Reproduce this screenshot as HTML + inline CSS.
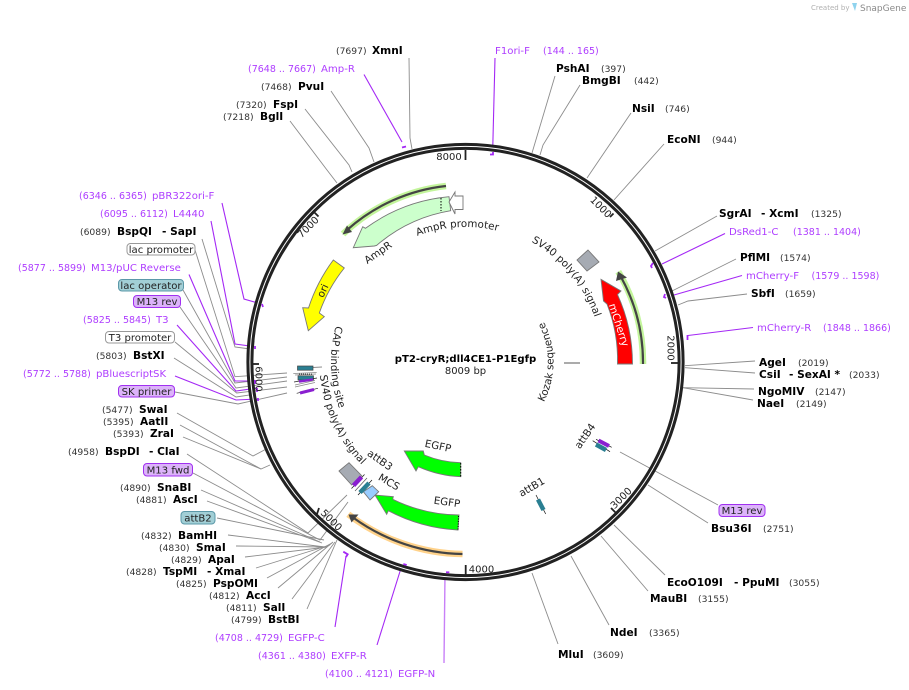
<!DOCTYPE html>
<html><head><meta charset="utf-8">
<style>
html,body{margin:0;padding:0;background:#fff;}
svg{display:block;font-family:"DejaVu Sans","Liberation Sans",sans-serif;}
.n{font-size:9.2px;fill:#333;}
.b{font-size:10.6px;font-weight:bold;fill:#000;}
.p{font-size:10.15px;fill:#ae3dff;}
.q{font-size:9.5px;fill:#ae3dff;}
.f{font-size:10.3px;fill:#222;}
.t{font-size:10px;fill:#222;}
.pill{font-size:10.1px;fill:#222;text-anchor:middle;}
.g{fill:none;stroke:#8c8c8c;stroke-width:.9;}
.v{fill:none;stroke:#a428f5;stroke-width:1.1;}
.m{fill:none;stroke:#a428f5;stroke-width:1.8;}
</style></head><body>
<svg width="909" height="690" viewBox="0 0 909 690" xmlns="http://www.w3.org/2000/svg">
<defs>
<path id="a1" d="M411.7,238.2 A135,135 0 0 1 503.8,232.5"/>
<path id="a2" d="M512,233 A137,137 0 0 1 600,338"/>
<path id="a3" d="M532.9,418.6 A88,88 0 0 0 532.9,305.4"/>
<path id="a4" d="M337,322 A134.5,134.5 0 0 0 340.6,412"/>
<path id="a5" d="M320,349 A146,146 0 0 0 381.7,481.6"/>
</defs>
<rect width="909" height="690" fill="#fff"/>

<!-- logo -->
<text x="811" y="10" style="font-size:7px;fill:#b0b0b0">Created by</text>
<path d="M852,3 h5 l-2,8 z" fill="#8fd3ee"/>
<text x="860" y="11" style="font-size:9px;fill:#8a8a8a">SnapGene</text>

<!-- connectors -->
<g class="g">
<polyline points="409,58 410,138 412,149"/>
<polyline points="331,91 369,148 374,162"/>
<polyline points="305,109 349,165 352,172"/>
<polyline points="290,121 327,170 337,183"/>
<polyline points="555,76 532,153"/>
<polyline points="580,85 543,145 540,155"/>
<polyline points="631,113 587,178"/>
<polyline points="664,144 614,200"/>
<polyline points="717,216 655,251"/>
<polyline points="736,259 672,291"/>
<polyline points="747,294 688,301 678,305"/>
<polyline points="755,361 685,365.7"/>
<polyline points="755,373 685,367.7"/>
<polyline points="754,389 683,387.7"/>
<polyline points="753,400 683,387.7"/>
<polyline points="620,452 718,505"/>
<polyline points="648,485 708,523"/>
<polyline points="614,525 665,575"/>
<polyline points="601,536 648,591"/>
<polyline points="571,556 609,625"/>
<polyline points="532,573 558,644"/>
<polyline points="202,239 235,347 250,349"/>
<polyline points="195,250 235,376.7 287,373"/>
<polyline points="183,290 235,383 287,377"/>
<polyline points="180,307 236,388 287,381"/>
<polyline points="175,342 236.7,393 287,387"/>
<polyline points="174,358 236,397 256,394"/>
<polyline points="175,392 238,404 287,393"/>
<polyline points="177,413 253,456 270,447"/>
<polyline points="180,425 261,469 270,465"/>
<polyline points="183,437 261,469"/>
<polyline points="187,454 308,533 347,495"/>
<polyline points="193,473 320,540 348,502"/>
<polyline points="201,490 320,542"/>
<polyline points="207,501 322,543"/>
<polyline points="217,518 324,540"/>
<polyline points="228,535 325,547"/>
<polyline points="236,546 327,547"/>
<polyline points="245,557 327,547"/>
<polyline points="256,568 330,545"/>
<polyline points="267,578 332,543"/>
<polyline points="278,588 333,542"/>
<polyline points="292,599 335,542"/>
<polyline points="307,609 337,540"/>
<polyline points="313,367.5 322,367"/>
<polyline points="564,363 580,363" style="stroke:#444"/>
</g>
<g class="v">
<polyline points="364,74.5 402,142"/>
<polyline points="495,58 492.7,150"/>
<polyline points="725,233.5 662,264"/>
<polyline points="742,275.5 674,295"/>
<polyline points="753,327.5 688,335.5"/>
<polyline points="222,203 244,299 258,303"/>
<polyline points="211,221 235,344 250,346"/>
<polyline points="189,274.5 235,381 255,381"/>
<polyline points="177,325 236,391 257,388"/>
<polyline points="175,376 236,400 258,399"/>
<polyline points="335,627 346,556"/>
<polyline points="377,645 402,565"/>
<polyline points="444,663 445,574" style="stroke:#c880f8;stroke-width:1.4"/>
</g>

<!-- ring -->
<circle cx="465.5" cy="362" r="215.6" fill="none" stroke="#222" stroke-width="7"/>
<circle cx="465.5" cy="362" r="215.6" fill="none" stroke="#fff" stroke-width="1"/>

<!-- primer marks -->
<g class="m">
<path d="M402,147.5 L406,146.5"/>
<path d="M493,152 L493,154.5 L490,154.5"/>
<path d="M653,263 L651,266 L652,268"/>
<path d="M665,294 L664,297 L666,298"/>
<path d="M687.5,335 L687.5,340"/>
<path d="M262,304 L263,307"/>
<path d="M255,346 L255,349"/>
<path d="M255,380 L255,384"/>
<path d="M257,388 L257,392"/>
<path d="M258,398 L258,401"/>
<path d="M343.3,551.7 L347.7,554.3 L346,557"/>
<path d="M403.3,564 L406.7,565"/>
<path d="M446,572.3 L449.3,572.3"/>
</g>

<!-- ticks -->
<g stroke="#222" stroke-width="1.8" fill="none">
<path d="M465.5,150 V160"/>
<path d="M613.5,213.5 L610,217"/>
<path d="M678,363 H671"/>
<path d="M616,513 L611,508"/>
<path d="M465.7,575 V565"/>
<path d="M317,514 L319,508"/>
<path d="M252,364 H259"/>
<path d="M313.5,211.5 L318.5,216.5"/>
</g>
<g class="t" text-anchor="middle">
<text x="449" y="160">8000</text>
<text transform="translate(601,207) rotate(45)" y="3.5">1000</text>
<text transform="translate(671,348) rotate(90)" y="3.5">2000</text>
<text transform="translate(621,498) rotate(-45)" y="3.5">3000</text>
<text x="481.5" y="572.5">4000</text>
<text transform="translate(331.5,520) rotate(45)" y="3.5">5000</text>
<text transform="translate(259,379) rotate(90)" y="3.5">6000</text>
<text transform="translate(308,227) rotate(-45)" y="3.5">7000</text>
</g>

<!-- primer arrows -->
<path d="M643,364 A177.5,177.5 0 0 0 618.3,271.7" fill="none" stroke="#c3f59b" stroke-width="6.5"/>
<path d="M643,364 A177.5,177.5 0 0 0 621,277" fill="none" stroke="#444" stroke-width="2.2"/>
<polygon points="618,271.5 627,277.5 616,281" fill="#444"/>
<path d="M446,186 A177.5,177.5 0 0 0 343,234" fill="none" stroke="#c3f59b" stroke-width="6.5"/>
<path d="M446,186 A177.5,177.5 0 0 0 347,230" fill="none" stroke="#444" stroke-width="2.2"/>
<polygon points="342.5,234.5 347,225.5 352,232" fill="#444"/>
<path d="M462.5,554 A192,192 0 0 1 348.3,514.3" fill="none" stroke="#ffd28a" stroke-width="6.5"/>
<path d="M462.5,554 A192,192 0 0 1 353,517.5" fill="none" stroke="#444" stroke-width="2.2"/>
<polygon points="348.5,514.5 358.5,514.5 351.5,522.5" fill="#444"/>

<!-- features -->
<g stroke="#777" stroke-width=".9">
<path d="M632.5,364 A167,167 0 0 0 617.5,294.5 L621,291 L601,279.3 L603.5,301 L607,304 A153,153 0 0 1 617.5,364 Z" fill="#ff0000"/>
<path d="M333.3,260 L344.3,268 A153,153 0 0 0 319.3,313 L324.3,316.7 L308.3,330.7 L302.7,307.7 L308.5,308 A167,167 0 0 1 333.3,260 Z" fill="#ffff00"/>
<path d="M450.7,210.7 A152,152 0 0 0 376.5,245.5 L374.3,246 L353.3,247.7 L362.7,226.7 L365.5,228.3 A167,167 0 0 1 449,196.7 Z" fill="#ccffcc"/>
<path d="M449,202 L455,192 L455,196 L463,196 L463,209.5 L455,209.5 L455,214 Z" fill="#fff"/>
<path d="M460.7,476.7 A115,115 0 0 1 418.3,466.7 L416,471 L404.3,451 L423.3,451 L424.3,455 A101,101 0 0 0 460.7,462.7 Z" fill="#00ff00"/>
<path d="M458,530 A168,168 0 0 1 388.3,510.7 L386.7,514.3 L375,495 L393.3,496.7 L392.7,499.3 A154,154 0 0 0 459,515 Z" fill="#00ff00"/>
<polygon points="588,250 599,262 587,271 577,260" fill="#a6abb3"/>
<polygon points="339,471 349,462.7 361.7,475.7 351.7,485" fill="#a6abb3"/>
<polygon points="363.3,491.7 372.3,485.7 378.7,491.7 370,500" fill="#99ccff"/>
</g>
<path d="M441,198 V211" stroke="#000" stroke-width="1" stroke-dasharray="1.5,1.5"/>
<path d="M460.7,463 V477" stroke="#000" stroke-width="1" stroke-dasharray="1.5,1.5"/>
<path d="M458.5,516 L458,530" stroke="#000" stroke-width="1" stroke-dasharray="1,1.5"/>

<!-- small lens features -->
<g stroke="#111" stroke-width=".7">
<path d="M351.5,488.5 L364.5,474.5"/>
<path d="M353.5,485.5 L361.5,477" stroke="#8a1fd0" stroke-width="4.5"/>
<path d="M355,491 L367,478" stroke="#555"/>
<path d="M358,495 L372,480"/>
<path d="M360,492.5 L369,483" stroke="#2a7f92" stroke-width="4.5"/>
<path d="M596,439.3 L611.7,447.3"/>
<path d="M598.5,440.5 L609,446" stroke="#8a1fd0" stroke-width="4"/>
<path d="M592.7,440.7 L610,451.7"/>
<path d="M596,444.5 L606,450" stroke="#2a7f92" stroke-width="4.5"/>
<path d="M536,495 L545.7,514"/>
<path d="M538,499.5 L543.5,510" stroke="#2a7f92" stroke-width="4.5"/>
</g>
<rect x="297.5" y="366" width="15.5" height="4.2" fill="#2a7f92" stroke="#444" stroke-width=".7"/>
<path d="M293.3,373.5 L316.7,372.5 M295,375 L316,374" stroke="#888" stroke-width=".7"/>
<path d="M299,374.2 H312" stroke="#555" stroke-width="1.5" stroke-dasharray="1,1"/>
<rect x="298" y="375.8" width="15.5" height="4.2" fill="#2a7f92" stroke="#444" stroke-width=".7"/>
<path d="M294,382 L317,378" stroke="#222" stroke-width=".7"/>
<path d="M299,381.5 L313,379.5" stroke="#8a1fd0" stroke-width="2.5"/>
<path d="M295,385 L315,380.5 M295,387 L315,382.5" stroke="#888" stroke-width=".7"/>
<path d="M296.7,393.3 L318,388.3" stroke="#222" stroke-width=".7"/>
<path d="M300,393 L314,389.5" stroke="#8a1fd0" stroke-width="3"/>

<!-- feature labels -->
<g class="f" text-anchor="middle">
<text><textPath href="#a1" startOffset="50%">AmpR promoter</textPath></text>
<text transform="translate(378,252.5) rotate(-35)" y="3.5">AmpR</text>
<text transform="translate(322.7,290.7) rotate(-65)" y="3.5">ori</text>
<text transform="translate(619,325) rotate(72)" y="3.5" style="fill:#fff">mCherry</text>
<text transform="translate(438,446) rotate(12)" y="3.5">EGFP</text>
<text transform="translate(447,502) rotate(8)" y="3.5">EGFP</text>
<text transform="translate(380,460) rotate(35)" y="3.5">attB3</text>
<text transform="translate(389,482) rotate(30)" y="3.5">MCS</text>
<text transform="translate(585,436) rotate(-55)" y="3.5">attB4</text>
<text transform="translate(531.7,487) rotate(-30)" y="3.5">attB1</text>
<text><textPath href="#a2" startOffset="50%">SV40 poly(A) signal</textPath></text>
<text><textPath href="#a3" startOffset="50%">Kozak sequence</textPath></text>
<text><textPath href="#a4" startOffset="50%">CAP binding site</textPath></text>
<text><textPath href="#a5" startOffset="50%">SV40 poly(A) signal</textPath></text>
</g>

<!-- center -->
<text x="465.5" y="362" text-anchor="middle" class="b" style="font-size:10.1px">pT2-cryR;dll4CE1-P1Egfp</text>
<text x="465.5" y="374" text-anchor="middle" style="font-size:10px;fill:#222">8009 bp</text>

<!-- labels -->
<text x="336" y="54" class="n">(7697)</text><text x="372" y="54" class="b">XmnI</text>
<text x="248" y="72" class="q">(7648 .. 7667)</text><text x="321" y="72" class="p">Amp-R</text>
<text x="261" y="90" class="n">(7468)</text><text x="298" y="90" class="b">PvuI</text>
<text x="236" y="108" class="n">(7320)</text><text x="273" y="108" class="b">FspI</text>
<text x="223" y="120" class="n">(7218)</text><text x="260" y="120" class="b">BglI</text>
<text x="495" y="54" class="p">F1ori-F</text><text x="543" y="54" class="q">(144 .. 165)</text>
<text x="556" y="72" class="b">PshAI</text><text x="601" y="72" class="n">(397)</text>
<text x="582" y="84" class="b">BmgBI</text><text x="634" y="84" class="n">(442)</text>
<text x="632" y="112" class="b">NsiI</text><text x="665" y="112" class="n">(746)</text>
<text x="667" y="143" class="b">EcoNI</text><text x="712" y="143" class="n">(944)</text>
<text x="719" y="217" class="b">SgrAI</text><text x="761" y="217" class="b">- XcmI</text><text x="811" y="217" class="n">(1325)</text>
<text x="729" y="235" class="p">DsRed1-C</text><text x="793" y="235" class="q">(1381 .. 1404)</text>
<text x="740" y="261" class="b">PflMI</text><text x="780" y="261" class="n">(1574)</text>
<text x="746" y="279" class="p">mCherry-F</text><text x="811.5" y="279" class="q">(1579 .. 1598)</text>
<text x="751" y="297" class="b">SbfI</text><text x="785" y="297" class="n">(1659)</text>
<text x="757" y="331" class="p">mCherry-R</text><text x="823" y="331" class="q">(1848 .. 1866)</text>
<text x="759" y="366" class="b">AgeI</text><text x="798" y="366" class="n">(2019)</text>
<text x="759" y="378" class="b">CsiI</text><text x="789" y="378" class="b">- SexAI *</text><text x="849" y="378" class="n">(2033)</text>
<text x="758" y="395" class="b">NgoMIV</text><text x="815" y="395" class="n">(2147)</text>
<text x="757" y="407" class="b">NaeI</text><text x="796" y="407" class="n">(2149)</text>
<text x="711" y="532" class="b">Bsu36I</text><text x="763" y="532" class="n">(2751)</text>
<text x="667" y="586" class="b">EcoO109I</text><text x="734" y="586" class="b">- PpuMI</text><text x="789" y="586" class="n">(3055)</text>
<text x="650" y="602" class="b">MauBI</text><text x="698" y="602" class="n">(3155)</text>
<text x="610" y="636" class="b">NdeI</text><text x="649" y="636" class="n">(3365)</text>
<text x="558" y="658" class="b">MluI</text><text x="593" y="658" class="n">(3609)</text>

<text x="79" y="199" class="q">(6346 .. 6365)</text><text x="152" y="199" class="p">pBR322ori-F</text>
<text x="100" y="217" class="q">(6095 .. 6112)</text><text x="173" y="217" class="p">L4440</text>
<text x="80" y="235" class="n">(6089)</text><text x="117" y="235" class="b">BspQI</text><text x="162" y="235" class="b">- SapI</text>
<text x="18" y="271" class="q">(5877 .. 5899)</text><text x="91" y="271" class="p">M13/pUC Reverse</text>
<text x="83" y="323" class="q">(5825 .. 5845)</text><text x="156" y="323" class="p">T3</text>
<text x="96" y="359" class="n">(5803)</text><text x="133" y="359" class="b">BstXI</text>
<text x="23" y="377" class="q">(5772 .. 5788)</text><text x="96" y="377" class="p">pBluescriptSK</text>
<text x="102" y="413" class="n">(5477)</text><text x="139" y="413" class="b">SwaI</text>
<text x="103" y="425" class="n">(5395)</text><text x="140" y="425" class="b">AatII</text>
<text x="113" y="437" class="n">(5393)</text><text x="150" y="437" class="b">ZraI</text>
<text x="68" y="455" class="n">(4958)</text><text x="105" y="455" class="b">BspDI</text><text x="149" y="455" class="b">- ClaI</text>
<text x="120" y="491" class="n">(4890)</text><text x="157" y="491" class="b">SnaBI</text>
<text x="136" y="503" class="n">(4881)</text><text x="173" y="503" class="b">AscI</text>
<text x="141" y="539" class="n">(4832)</text><text x="178" y="539" class="b">BamHI</text>
<text x="159" y="551" class="n">(4830)</text><text x="196" y="551" class="b">SmaI</text>
<text x="171" y="563" class="n">(4829)</text><text x="208" y="563" class="b">ApaI</text>
<text x="126" y="575" class="n">(4828)</text><text x="163" y="575" class="b">TspMI</text><text x="207" y="575" class="b">- XmaI</text>
<text x="176" y="587" class="n">(4825)</text><text x="213" y="587" class="b">PspOMI</text>
<text x="209" y="599" class="n">(4812)</text><text x="246" y="599" class="b">AccI</text>
<text x="226" y="611" class="n">(4811)</text><text x="263" y="611" class="b">SalI</text>
<text x="231" y="623" class="n">(4799)</text><text x="268" y="623" class="b">BstBI</text>
<text x="215" y="641" class="q">(4708 .. 4729)</text><text x="288" y="641" class="p">EGFP-C</text>
<text x="258" y="659" class="q">(4361 .. 4380)</text><text x="331" y="659" class="p">EXFP-R</text>
<text x="325" y="677" class="q">(4100 .. 4121)</text><text x="398" y="677" class="p">EGFP-N</text>

<!-- pills -->
<g stroke-width="1">
<rect x="127" y="243.5" width="68" height="11.5" rx="3.5" fill="#fff" stroke="#999"/>
<rect x="105.5" y="331.5" width="69" height="11.5" rx="3.5" fill="#fff" stroke="#999"/>
<rect x="118.5" y="279.5" width="65" height="11.5" rx="3.5" fill="#a2cfd6" stroke="#5b98a8"/>
<rect x="181" y="511.5" width="34" height="12.5" rx="3.5" fill="#a2cfd6" stroke="#5b98a8"/>
<rect x="133.5" y="295.5" width="47" height="12" rx="3.5" fill="#dcb3fa" stroke="#a030f0"/>
<rect x="118.5" y="385.5" width="56" height="11.5" rx="3.5" fill="#dcb3fa" stroke="#a030f0"/>
<rect x="143.5" y="463.5" width="49" height="12.5" rx="3.5" fill="#dcb3fa" stroke="#a030f0"/>
<rect x="719" y="504.5" width="46" height="12" rx="3.5" fill="#dcb3fa" stroke="#a030f0"/>
</g>
<text x="161" y="253" class="pill">lac promoter</text>
<text x="140" y="341" class="pill">T3 promoter</text>
<text x="151" y="289" class="pill">lac operator</text>
<text x="198" y="521.5" class="pill">attB2</text>
<text x="157" y="305" class="pill">M13 rev</text>
<text x="146.5" y="395" class="pill">SK primer</text>
<text x="168" y="473.5" class="pill">M13 fwd</text>
<text x="742" y="514" class="pill">M13 rev</text>
</svg>
</body></html>
